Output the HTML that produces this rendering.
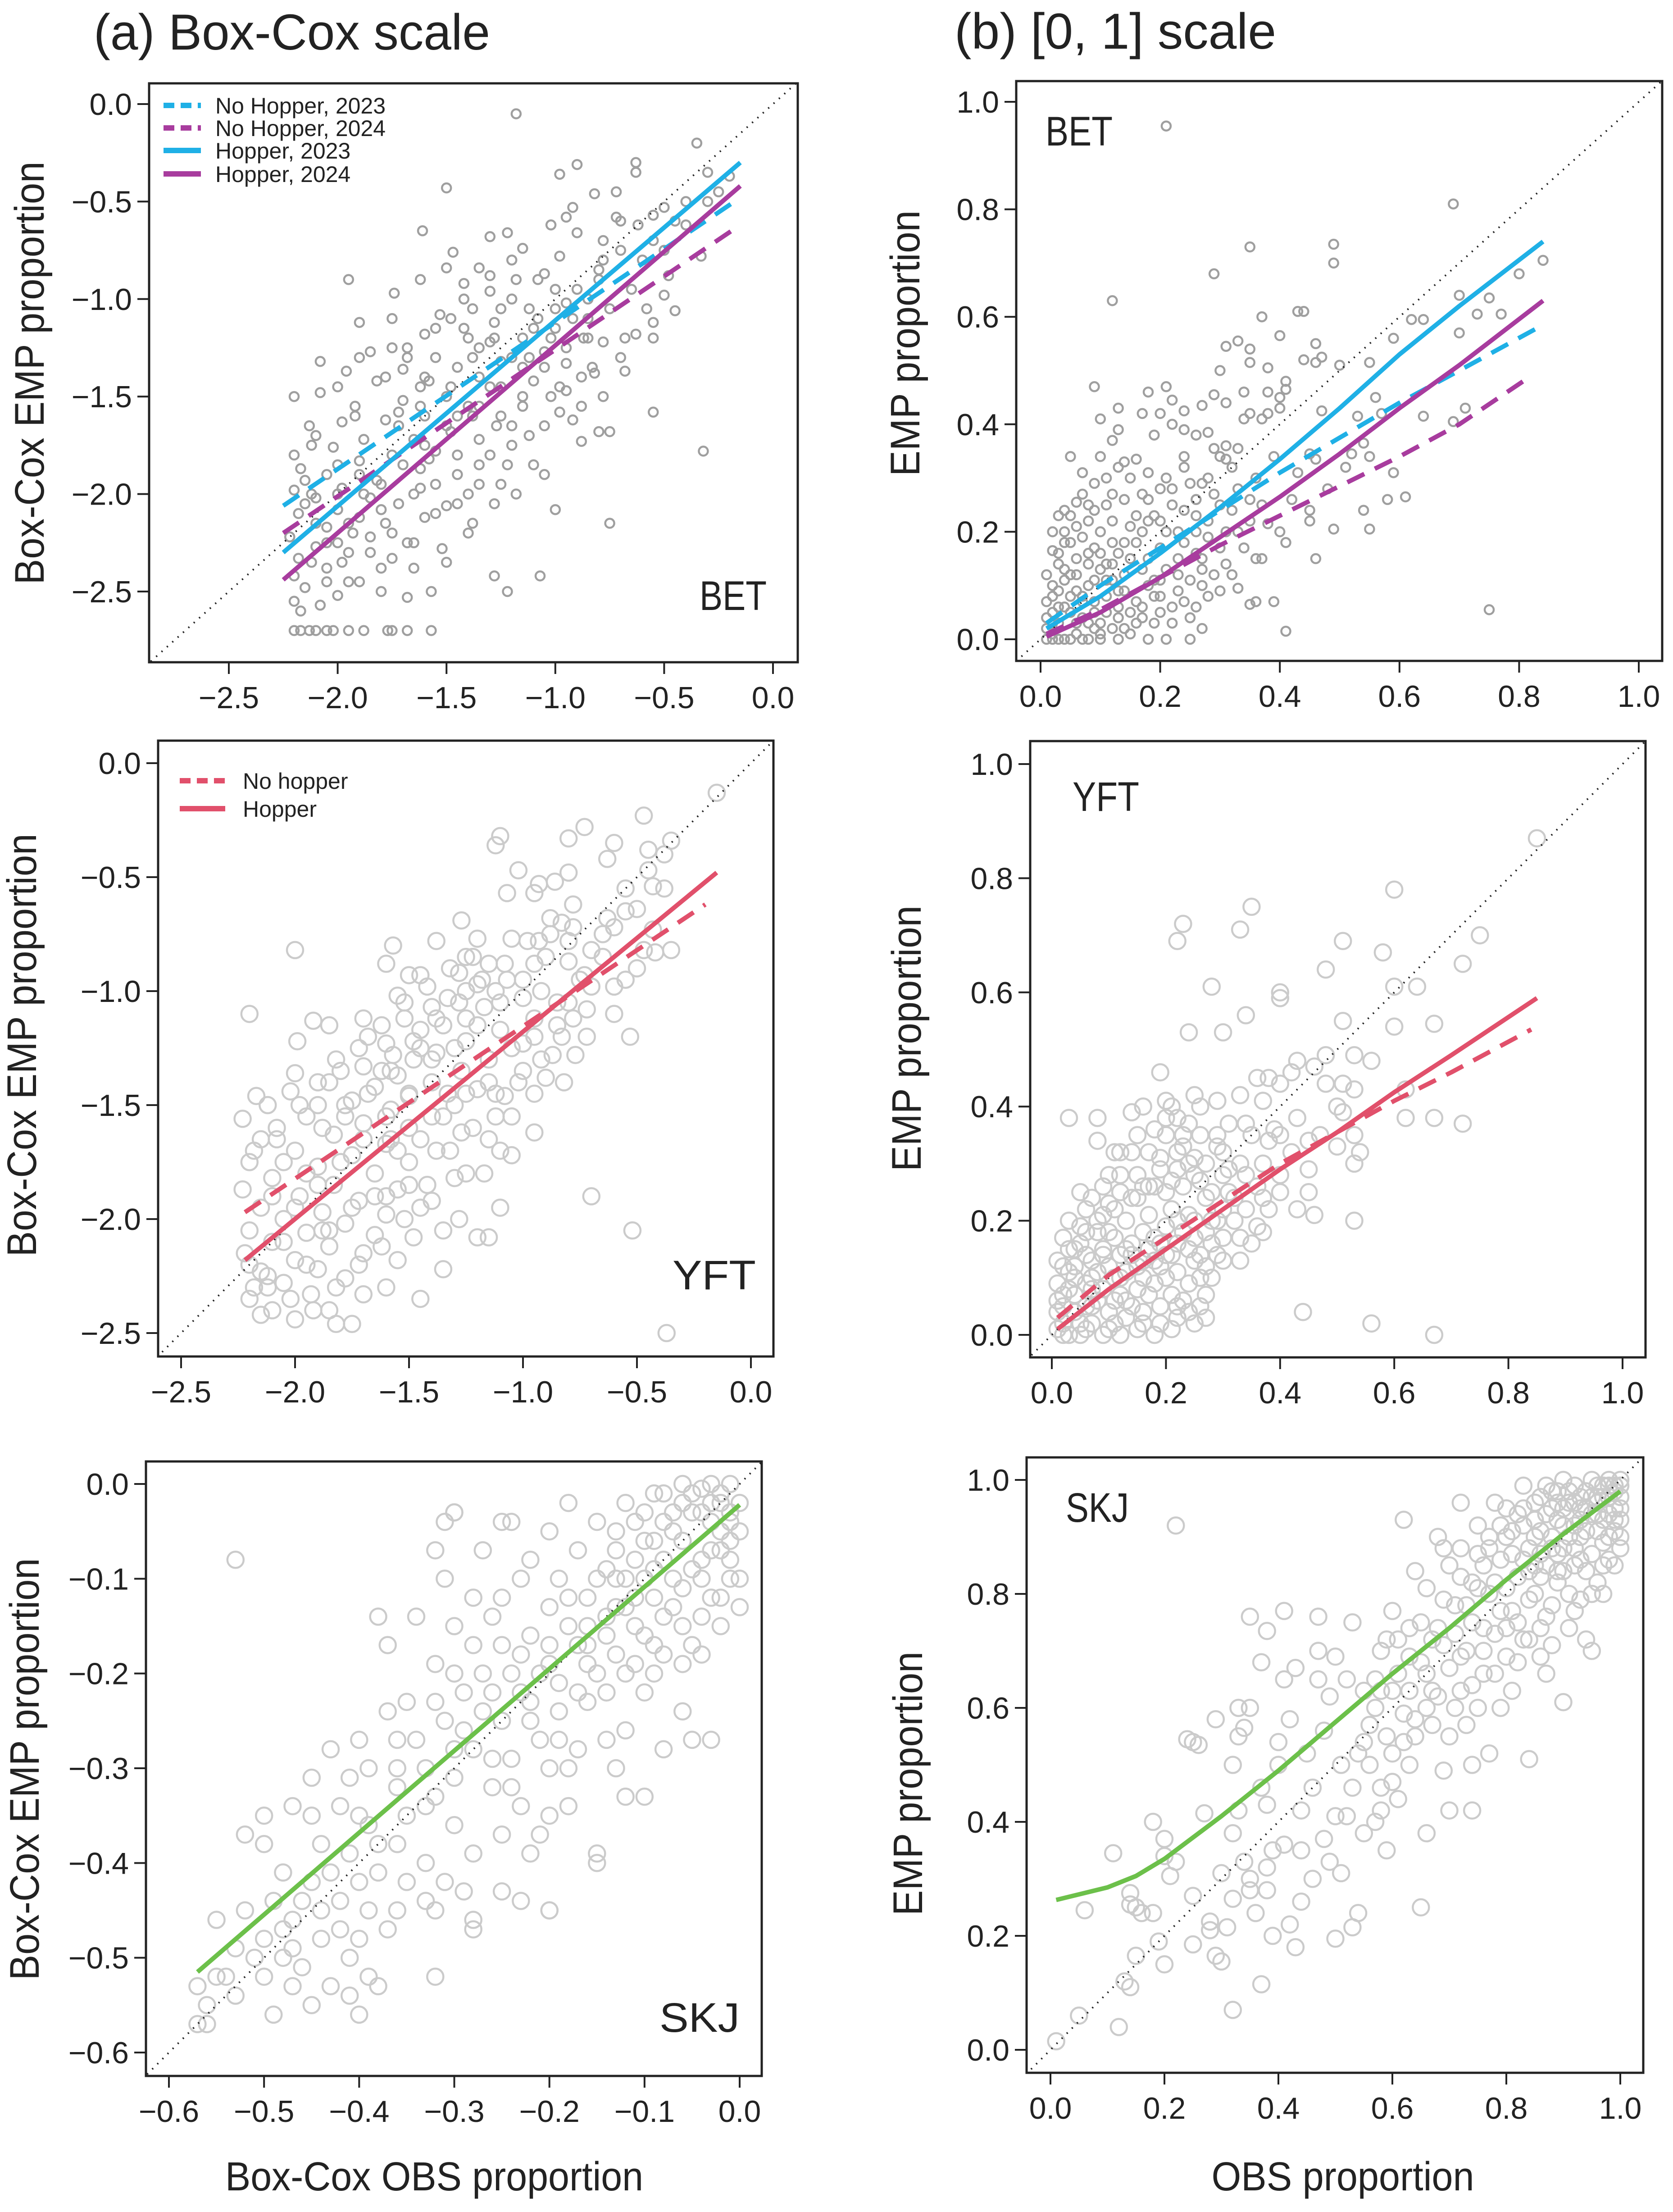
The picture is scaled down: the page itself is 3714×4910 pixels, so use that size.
<!DOCTYPE html>
<html><head><meta charset="utf-8"><style>
html,body{margin:0;padding:0;background:#fff;overflow:hidden;}
svg{display:block;font-family:"Liberation Sans",sans-serif;}
</style></head><body>
<svg id="fig" width="3714" height="4910" viewBox="0 0 3714 4910" xmlns="http://www.w3.org/2000/svg">
<rect width="3714" height="4910" fill="#fff"/>
<text x="208" y="110" font-size="112" fill="#222" textLength="880" lengthAdjust="spacingAndGlyphs">(a) Box-Cox scale</text>
<text x="2119" y="108" font-size="112" fill="#222" textLength="714" lengthAdjust="spacingAndGlyphs">(b) [0, 1] scale</text>
<g id="plots"></g>
</svg>
<script>
// ---------- data ----------
const betBcPoints = [[-2.2,-2.7],[-2.17,-2.7],[-2.13,-2.7],[-2.1,-2.7],[-2.05,-2.7],[-2.02,-2.7],[-1.95,-2.7],[-1.88,-2.7],[-1.77,-2.7],[-1.75,-2.7],[-1.68,-2.7],[-1.57,-2.7],
[-1.18,-0.05],[-0.35,-0.2],[-0.63,-0.3],[-0.9,-0.31],[-0.98,-0.36],[-0.63,-0.35],[-0.3,-0.35],[-1.5,-0.43],[-0.82,-0.46],[-0.72,-0.45],[-0.3,-0.5],[-0.5,-0.53],[-0.92,-0.53],[-0.95,-0.58],[-0.55,-0.57],[-0.7,-0.6],[-1.02,-0.62],[-0.62,-0.62],[-1.61,-0.65],[-1.22,-0.66],[-0.9,-0.66],[-1.3,-0.68],[-0.78,-0.7],[-1.15,-0.74],[-1.47,-0.76],[-0.98,-0.78],[-1.2,-0.8],[-0.78,-0.8],[-0.33,-0.78],[-1.35,-0.84],[-1.5,-0.84],[-0.48,-0.88],[-1.05,-0.87],[-0.8,-0.9],[-1.95,-0.9],[-1.62,-0.9],[-1.42,-0.92],[-1.0,-0.95],[-1.3,-0.96],[-1.74,-0.97],[-0.5,-0.98],[-1.2,-1.0],[-1.12,-1.05],[-1.38,-1.05],[-0.95,-1.02],[-0.85,-1.1],[-1.53,-1.08],[-1.75,-1.1],[-0.45,-1.06],[-1.9,-1.12],[-1.28,-1.12],[-1.0,-1.15],[-0.55,-1.12],[-1.42,-1.15],[-1.6,-1.18],[-1.15,-1.2],[-0.63,-1.18],[-0.87,-1.2],[-0.55,-1.2],[-0.78,-1.22],[-1.68,-1.25],[-1.35,-1.25],[-1.05,-1.27],[-1.85,-1.27],[-1.55,-1.3],[-2.08,-1.32],[-1.25,-1.32],[-0.95,-1.33],[-1.45,-1.35],[-1.7,-1.36],[-1.96,-1.37],[-0.82,-1.38],[-0.68,-1.37],[-1.35,-1.4],[-1.1,-1.42],[-1.58,-1.42],[-1.82,-1.42],[-2.0,-1.45],[-1.25,-1.45],[-0.95,-1.47],[-2.08,-1.48],[-1.5,-1.5],[-2.2,-1.5],[-1.7,-1.52],[-1.92,-1.55],[-1.15,-1.55],[-0.88,-1.55],[-0.98,-1.58],[-1.38,-1.6],[-1.6,-1.6],[-1.78,-1.62],[-1.98,-1.63],[-2.13,-1.65],[-1.27,-1.65],[-1.05,-1.65],[-1.48,-1.68],[-0.75,-1.68],[-2.1,-1.7],[-1.88,-1.72],[-1.65,-1.72],[-1.35,-1.72],[-1.2,-1.75],[-2.02,-1.76],[-1.55,-1.78],[-1.75,-1.8],[-1.3,-1.8],[-2.2,-1.8],[-1.9,-1.83],[-1.1,-1.85],[-2.17,-1.87],[-1.62,-1.87],[-1.45,-1.9],[-2.05,-1.9],[-1.82,-1.93],[-1.25,-1.95],[-1.98,-1.97],[-1.62,-1.97],[-2.2,-1.98],[-1.4,-2.0],[-1.85,-2.02],[-2.1,-2.02],[-1.72,-2.05],[-1.5,-2.06],[-2.0,-2.08],[-1.0,-2.08],[-2.18,-2.1],[-1.9,-2.12],[-1.6,-2.12],[-1.78,-2.15],[-2.05,-2.17],[-1.4,-2.2],[-2.22,-2.22],[-1.85,-2.22],[-1.68,-2.25],[-2.1,-2.27],[-1.52,-2.28],[-1.95,-2.3],[-2.18,-2.33],[-1.75,-2.33],[-2.05,-2.38],[-1.65,-2.38],[-2.2,-2.42],[-1.9,-2.45],[-1.28,-2.42],[-1.07,-2.42],[-2.15,-2.48],[-1.8,-2.5],[-1.57,-2.5],[-1.22,-2.5],[-2.0,-2.52],[-2.2,-2.55],[-1.68,-2.53],[-2.08,-2.57],[-2.17,-2.6],[-0.75,-2.15],[-0.32,-1.78],[-0.55,-1.58],[-0.8,-1.68],[-0.88,-1.73],[-0.7,-1.3],[-0.58,-1.05],[-0.2,-0.37],[-0.25,-0.45],[-0.4,-0.62],[-0.72,-0.58],[-0.85,-1.0],[-1.08,-0.9],[-1.02,-1.5],[-0.92,-1.62],[-1.2,-1.65],[-1.35,-1.55],[-0.83,-1.35],[-1.62,-1.45],[-1.72,-1.58],[-2.12,-2.0],[-2.15,-1.93],[-1.93,-2.2],[-2.0,-2.25],[-1.8,-2.08],[-1.58,-1.82],[-1.45,-1.6],[-1.15,-1.35],[-1.3,-1.22],
[-2.15,-2.05],[-2.1,-2.15],[-2.05,-2.25],[-2.0,-2.0],[-1.95,-2.15],[-1.9,-1.9],[-1.85,-2.3],[-1.8,-1.95],[-1.75,-2.2],[-1.7,-1.85],[-1.65,-2.0],[-1.6,-1.75],[-1.55,-1.95],[-1.5,-1.65],[-1.45,-1.8],[-1.4,-1.55],[-1.35,-1.85],[-1.3,-1.45],[-1.25,-1.6],[-1.2,-1.3],[-1.15,-1.5],[-1.1,-1.15],[-1.05,-1.35],[-1.0,-1.05],[-0.95,-1.25],[-0.9,-0.95],[-0.85,-1.2],[-0.8,-0.85],[-0.75,-1.05],[-0.7,-0.75],[-0.65,-0.95],[-0.6,-0.8],[-0.55,-0.7],[-0.5,-0.75],[-0.45,-0.6],[-0.4,-0.5],[-1.92,-1.6],[-1.78,-1.4],[-1.68,-1.3],[-1.55,-1.15],[-1.42,-1.0],[-1.3,-0.88],[-1.18,-0.9],[-1.25,-1.05],[-1.08,-1.1],[-2.12,-1.75],[-2.0,-1.85],[-1.88,-2.0],[-1.72,-1.65],[-1.62,-1.55],[-1.48,-1.45],[-1.38,-1.3],[-1.28,-1.2],[-1.12,-1.3],[-1.02,-1.2],[-0.92,-1.1],[-1.55,-2.1],[-1.45,-2.05],[-1.35,-1.95],[-1.22,-1.85],[-1.12,-1.7],[-0.98,-1.45],[-0.88,-1.4],[-0.78,-1.5],[-0.68,-1.2],[-1.65,-2.25],[-1.8,-2.38],[-1.95,-2.45],[-2.12,-2.35],[-1.5,-2.35],[-1.38,-2.15],[-1.28,-2.05],[-1.18,-2.0],[-1.05,-1.9],[-2.05,-2.45],[-1.98,-2.35],[-1.6,-1.4],[-1.75,-1.25],[-1.9,-1.3],[-1.4,-1.2],[-1.48,-1.1]];

const yftBcPoints = [[-0.15,-0.13],[-0.47,-0.23],[-0.73,-0.28],[-0.8,-0.33],[-1.1,-0.32],[-1.12,-0.36],[-0.35,-0.34],[-0.6,-0.35],[-0.45,-0.38],[-0.63,-0.42],[-0.38,-0.4],[-1.02,-0.47],[-0.8,-0.48],[-0.45,-0.47],[-0.43,-0.54],[-0.55,-0.55],[-0.93,-0.53],[-0.86,-0.52],[-0.38,-0.55],[-1.07,-0.57],[-0.95,-0.57],[-0.55,-0.65],[-0.5,-0.64],[-1.27,-0.69],[-0.63,-0.68],[-0.83,-0.7],[-0.78,-0.72],[-0.88,-0.75],[-1.2,-0.77],[-1.05,-0.77],[-0.43,-0.73],[-0.6,-0.72],[-0.93,-0.78],[-1.38,-0.78],[-1.57,-0.8],[-2.0,-0.82],[-0.47,-0.82],[-0.35,-0.82],[-0.42,-0.83],[-1.25,-0.85],[-1.15,-0.88],[-0.8,-0.87],[-0.95,-0.88],[-1.6,-0.88],[-1.5,-0.93],[-1.28,-0.92],[-1.07,-0.95],[-0.73,-0.93],[-1.45,-0.93],[-0.55,-0.95],[-1.55,-1.02],[-1.25,-1.0],[-1.12,-1.0],[-0.92,-1.0],[-0.6,-0.98],[-1.33,-1.03],[-1.0,-1.03],[-0.8,-1.05],[-1.17,-1.07],[-1.4,-1.07],[-0.72,-1.08],[-2.2,-1.1],[-1.92,-1.13],[-1.7,-1.12],[-1.52,-1.12],[-1.25,-1.12],[-0.95,-1.12],[-0.78,-1.12],[-1.85,-1.15],[-1.45,-1.17],[-1.35,-1.15],[-1.1,-1.17],[-0.83,-1.2],[-0.53,-1.2],[-1.68,-1.2],[-1.99,-1.22],[-1.6,-1.23],[-1.25,-1.22],[-1.0,-1.23],[-1.38,-1.27],[-1.57,-1.28],[-0.87,-1.28],[-1.15,-1.3],[-1.48,-1.3],[-1.82,-1.3],[-1.7,-1.33],[-1.27,-1.35],[-1.0,-1.35],[-2.0,-1.36],[-1.55,-1.37],[-1.4,-1.4],[-1.85,-1.4],[-0.9,-1.38],[-1.65,-1.42],[-1.2,-1.43],[-2.02,-1.44],[-1.08,-1.46],[-1.5,-1.46],[-2.17,-1.46],[-1.75,-1.48],[-1.3,-1.5],[-1.9,-1.5],[-1.58,-1.52],[-1.4,-1.55],[-2.23,-1.56],[-1.95,-1.55],[-1.7,-1.58],[-1.12,-1.55],[-1.5,-1.6],[-2.08,-1.6],[-1.27,-1.62],[-1.83,-1.63],[-2.15,-1.65],[-1.6,-1.67],[-1.38,-1.7],[-2.0,-1.7],[-1.75,-1.72],[-1.1,-1.7],[-2.2,-1.75],[-1.5,-1.75],[-1.9,-1.77],[-1.65,-1.8],[-1.3,-1.82],[-2.1,-1.82],[-1.83,-1.85],[-2.23,-1.87],[-1.55,-1.87],[-1.98,-1.9],[-1.72,-1.92],[-1.4,-1.92],[-2.15,-1.95],[-1.88,-1.97],[-1.6,-1.98],[-2.05,-2.0],[-1.28,-2.0],[-1.78,-2.02],[-2.2,-2.05],[-1.95,-2.06],[-1.65,-2.07],[-1.48,-2.08],[-2.1,-2.1],[-1.85,-2.12],[-1.2,-2.08],[-2.22,-2.15],[-1.7,-2.15],[-2.0,-2.18],[-1.55,-2.18],[-1.9,-2.22],[-2.15,-2.23],[-1.35,-2.22],[-1.78,-2.26],[-2.05,-2.28],[-1.6,-2.3],[-1.93,-2.33],[-2.2,-2.35],[-1.7,-2.33],[-1.45,-2.35],[-2.1,-2.4],[-1.85,-2.4],[-2.0,-2.44],[-2.15,-2.42],[-1.82,-2.46],[-1.75,-2.46],[-2.18,-2.3],[-0.7,-1.9],[-0.52,-2.05],[-0.37,-2.5],[-1.17,-1.8],[-1.1,-1.95],[-1.15,-2.08],[-1.05,-1.72],[-0.95,-1.45],[-0.77,-1.28],[-0.6,-1.1],[-0.5,-0.9],[-0.65,-0.85],[-1.2,-0.97],[-0.85,-1.15],[-0.7,-0.98],[-1.62,-1.35],[-1.78,-1.55],[-1.95,-1.8],[-2.05,-1.75],[-1.45,-1.25],[-1.33,-1.45],[-1.58,-1.65],[-1.88,-2.05],[-2.12,-2.25],
[-2.1,-1.9],[-2.05,-2.1],[-2.0,-1.95],[-1.95,-2.2],[-1.9,-1.85],[-1.85,-2.05],[-1.8,-1.75],[-1.75,-1.95],[-1.7,-1.65],[-1.65,-1.9],[-1.6,-1.55],[-1.55,-1.7],[-1.5,-1.45],[-1.45,-1.65],[-1.4,-1.3],[-1.35,-1.55],[-1.3,-1.25],[-1.25,-1.45],[-1.2,-1.15],[-1.15,-1.4],[-1.1,-1.05],[-1.05,-1.25],[-1.0,-0.95],[-0.95,-1.2],[-0.9,-0.85],[-0.85,-1.05],[-0.8,-0.78],[-0.75,-0.95],[-0.7,-0.82],[-0.65,-0.75],[-2.18,-1.7],[-2.12,-1.5],[-2.08,-1.65],[-1.98,-1.5],[-1.9,-1.4],[-1.8,-1.35],[-1.72,-1.25],[-1.62,-1.15],[-1.52,-1.05],[-1.42,-0.98],[-1.32,-0.9],[-1.22,-0.85],[-2.2,-2.2],[-2.12,-2.3],[-2.02,-2.35],[-1.92,-2.4],[-1.82,-2.3],[-1.72,-2.2],[-1.62,-2.12],[-1.52,-2.0],[-1.42,-1.85],[-1.32,-1.7],[-1.22,-1.6],[-1.12,-1.45],[-1.02,-1.4],[-0.92,-1.3],[-0.82,-1.4],[-0.72,-1.2],[-1.88,-1.6],[-1.78,-1.5],[-1.68,-1.45],[-1.58,-1.35],[-1.48,-1.22],[-1.38,-1.12],[-1.28,-1.05],[-1.18,-0.95],[-1.08,-0.88],[-0.98,-0.78],[-0.88,-0.68],[-0.78,-0.62],[-1.6,-1.9],[-1.5,-1.85],[-1.45,-1.95],[-1.35,-2.05],[-1.25,-1.8],[-1.15,-1.65],[-1.05,-1.55],[-0.95,-1.62]];

const skjBcPoints = [[-0.01,0],[-0.02,-0.01],[-0.03,-0.02],[-0.01,-0.03],[-0.04,-0.005],[-0.05,-0.03],[-0.02,-0.05],[-0.06,-0.02],[-0.08,-0.01],[-0.07,-0.05],[-0.1,-0.03],[-0.03,-0.07],[-0.09,-0.06],[-0.12,-0.02],[-0.05,-0.09],[-0.01,-0.1],[-0.11,-0.08],[-0.13,-0.05],[-0.07,-0.1],[-0.15,-0.04],[-0.02,-0.12],[-0.04,-0.14],[-0.09,-0.12],[-0.14,-0.09],[-0.17,-0.07],[-0.12,-0.13],[-0.06,-0.15],[-0.19,-0.1],[-0.16,-0.12],[-0.1,-0.16],[-0.2,-0.05],[-0.22,-0.08],[-0.24,-0.04],[-0.23,-0.1],[-0.18,-0.15],[-0.13,-0.18],[-0.08,-0.18],[-0.2,-0.13],[-0.25,-0.12],[-0.22,-0.16],[-0.16,-0.19],[-0.11,-0.19],[-0.27,-0.07],[-0.3,-0.03],[-0.28,-0.12],[-0.25,-0.17],[-0.2,-0.19],[-0.14,-0.22],[-0.09,-0.2],[-0.06,-0.24],[-0.03,-0.27],[-0.3,-0.15],[-0.27,-0.2],[-0.23,-0.22],[-0.19,-0.24],[-0.16,-0.23],[-0.12,-0.26],[-0.32,-0.19],[-0.29,-0.22],[-0.25,-0.25],[-0.21,-0.27],[-0.17,-0.28],[-0.34,-0.14],[-0.31,-0.1],[-0.35,-0.23],[-0.31,-0.25],[-0.28,-0.28],[-0.24,-0.29],[-0.2,-0.3],[-0.18,-0.34],[-0.13,-0.3],[-0.12,-0.33],[-0.15,-0.39],[-0.37,-0.17],[-0.38,-0.14],[-0.37,-0.24],[-0.36,-0.27],[-0.33,-0.3],[-0.3,-0.31],[-0.26,-0.32],[-0.23,-0.34],[-0.21,-0.37],[-0.22,-0.39],[-0.4,-0.27],[-0.41,-0.31],[-0.39,-0.3],[-0.36,-0.32],[-0.33,-0.34],[-0.3,-0.36],[-0.28,-0.39],[-0.25,-0.37],[-0.25,-0.43],[-0.23,-0.44],[-0.2,-0.45],[-0.43,-0.28],[-0.42,-0.34],[-0.39,-0.36],[-0.36,-0.38],[-0.33,-0.4],[-0.31,-0.42],[-0.29,-0.43],[-0.28,-0.46],[-0.45,-0.31],[-0.45,-0.35],[-0.44,-0.38],[-0.41,-0.39],[-0.38,-0.41],[-0.35,-0.42],[-0.33,-0.44],[-0.36,-0.45],[-0.32,-0.45],[-0.47,-0.34],[-0.48,-0.41],[-0.45,-0.42],[-0.42,-0.44],[-0.39,-0.45],[-0.37,-0.47],[-0.42,-0.47],[-0.4,-0.48],[-0.5,-0.35],[-0.5,-0.38],[-0.52,-0.37],[-0.49,-0.44],[-0.47,-0.46],[-0.44,-0.48],[-0.41,-0.5],[-0.39,-0.52],[-0.32,-0.52],[-0.55,-0.46],[-0.52,-0.45],[-0.5,-0.48],[-0.48,-0.5],[-0.46,-0.51],[-0.43,-0.53],[-0.41,-0.54],[-0.38,-0.53],[-0.4,-0.56],[-0.53,-0.49],[-0.5,-0.52],[-0.47,-0.53],[-0.45,-0.55],[-0.49,-0.56],[-0.54,-0.52],[-0.55,-0.52],[-0.56,-0.55],[-0.57,-0.57],[-0.56,-0.57],[-0.53,-0.54],[-0.57,-0.53],[-0.53,-0.08],[-0.3,-0.03],[-0.31,-0.04],[-0.18,-0.02],[-0.25,-0.04],[-0.32,-0.07],[-0.15,-0.4],[-0.2,-0.45],[-0.28,-0.47],[-0.2,-0.35],[-0.1,-0.33],[-0.05,-0.27],[-0.08,-0.28],[-0.04,-0.18],[0,-0.05],[0,-0.1],[0,-0.13],[-0.02,-0.15],[-0.02,-0.07],[0,-0.02],[-0.01,-0.04],[-0.03,0],[-0.06,0],[-0.09,-0.01],[-0.04,-0.1],[-0.06,-0.06],[-0.11,-0.12],[-0.14,-0.14],[-0.17,-0.17],[-0.08,-0.08],[-0.1,-0.22],[-0.13,-0.1],[-0.15,-0.2],[-0.19,-0.21],[-0.26,-0.22],[-0.22,-0.25],
[-0.01,-0.06],[-0.03,-0.04],[-0.05,-0.01],[-0.07,-0.03],[-0.08,-0.04],[-0.1,-0.06],[-0.04,-0.08],[-0.06,-0.11],[-0.08,-0.14],[-0.12,-0.1],[-0.11,-0.04],[-0.13,-0.07],[-0.15,-0.1],[-0.16,-0.15],[-0.18,-0.12],[-0.2,-0.17],[-0.21,-0.2],[-0.23,-0.18],[-0.19,-0.27],[-0.17,-0.22],[-0.14,-0.16],[-0.12,-0.2],[-0.1,-0.1],[-0.07,-0.13],[-0.05,-0.17],[-0.03,-0.12],[-0.01,-0.08],[-0.02,-0.02],[-0.04,-0.03],[-0.09,-0.09],[-0.26,-0.14],[-0.28,-0.17],[-0.3,-0.2],[-0.32,-0.23],[-0.34,-0.27],[-0.29,-0.26],[-0.27,-0.24],[-0.24,-0.2],[-0.22,-0.23],[-0.26,-0.29],[-0.24,-0.32],[-0.3,-0.28],[-0.32,-0.33],[-0.35,-0.35],[-0.38,-0.38],[-0.4,-0.42],[-0.43,-0.41],[-0.46,-0.44],[-0.48,-0.47],[-0.51,-0.5],[-0.36,-0.3],[-0.4,-0.35],[-0.44,-0.45],[-0.47,-0.49],[-0.13,-0.13],[-0.16,-0.17],[-0.11,-0.15],[-0.09,-0.17],[-0.06,-0.19],[-0.14,-0.27],[-0.18,-0.3]];

const betPropPoints = [[0.21,0.955],[0.69,0.81],[0.35,0.73],[0.49,0.735],[0.49,0.7],[0.29,0.68],[0.12,0.63],[0.84,0.705],[0.8,0.68],[0.7,0.64],[0.75,0.635],[0.73,0.605],[0.77,0.605],[0.64,0.595],[0.62,0.595],[0.7,0.57],[0.37,0.6],[0.44,0.61],[0.43,0.61],[0.4,0.565],[0.46,0.55],[0.31,0.545],[0.33,0.555],[0.35,0.54],[0.59,0.56],[0.47,0.525],[0.44,0.52],[0.46,0.515],[0.55,0.515],[0.5,0.51],[0.3,0.5],[0.35,0.515],[0.38,0.505],[0.41,0.48],[0.41,0.465],[0.38,0.46],[0.34,0.46],[0.21,0.47],[0.29,0.455],[0.4,0.45],[0.22,0.445],[0.18,0.46],[0.09,0.47],[0.56,0.45],[0.31,0.44],[0.47,0.425],[0.24,0.425],[0.27,0.435],[0.13,0.43],[0.17,0.42],[0.2,0.42],[0.35,0.42],[0.38,0.42],[0.4,0.43],[0.53,0.415],[0.57,0.42],[0.64,0.415],[0.71,0.43],[0.69,0.405],[0.1,0.41],[0.22,0.4],[0.34,0.41],[0.37,0.41],[0.24,0.39],[0.13,0.39],[0.12,0.37],[0.26,0.38],[0.28,0.385],[0.31,0.36],[0.33,0.355],[0.29,0.355],[0.19,0.38],[0.05,0.34],[0.1,0.34],[0.14,0.33],[0.16,0.335],[0.24,0.34],[0.3,0.34],[0.31,0.335],[0.45,0.345],[0.46,0.335],[0.39,0.34],[0.54,0.365],[0.52,0.345],[0.55,0.34],[0.59,0.31],[0.51,0.32],[0.43,0.31],[0.32,0.32],[0.07,0.31],[0.09,0.29],[0.11,0.3],[0.13,0.32],[0.15,0.3],[0.18,0.31],[0.21,0.3],[0.24,0.32],[0.27,0.29],[0.2,0.28],[0.17,0.27],[0.14,0.26],[0.11,0.25],[0.08,0.25],[0.06,0.255],[0.04,0.24],[0.05,0.23],[0.22,0.25],[0.26,0.26],[0.29,0.27],[0.24,0.24],[0.08,0.22],[0.12,0.22],[0.15,0.21],[0.18,0.22],[0.21,0.2],[0.19,0.23],[0.26,0.2],[0.28,0.22],[0.35,0.22],[0.38,0.215],[0.4,0.2],[0.45,0.24],[0.45,0.22],[0.49,0.205],[0.54,0.24],[0.55,0.205],[0.58,0.26],[0.61,0.265],[0.04,0.18],[0.07,0.19],[0.09,0.17],[0.13,0.16],[0.16,0.18],[0.2,0.17],[0.23,0.15],[0.26,0.16],[0.3,0.17],[0.33,0.2],[0.36,0.15],[0.37,0.15],[0.41,0.18],[0.46,0.15],[0.02,0.165],[0.03,0.14],[0.06,0.15],[0.1,0.13],[0.14,0.12],[0.17,0.13],[0.19,0.11],[0.23,0.12],[0.27,0.1],[0.3,0.09],[0.33,0.095],[0.35,0.065],[0.36,0.07],[0.39,0.07],[0.02,0.1],[0.04,0.11],[0.06,0.09],[0.08,0.1],[0.11,0.08],[0.13,0.06],[0.16,0.07],[0.2,0.05],[0.22,0.03],[0.25,0.04],[0.27,0.02],[0.01,0.07],[0.03,0.06],[0.05,0.05],[0.07,0.04],[0.1,0.03],[0.12,0.02],[0.15,0.01],[0.18,0.0],[0.21,0.0],[0.25,0.0],[0.41,0.015],[0.75,0.055],[0.01,0.02],[0.02,0.01],[0.03,0.03],[0.04,0.0],[0.06,0.01],[0.08,0.0],[0.09,0.02],[0.01,0.04],[0.02,0.05],[0.05,0.08],[0.03,0.09],[0.01,0.12],[0.04,0.2],[0.06,0.21],[0.1,0.2],[0.12,0.18],[0.02,0.03],[0.05,0.12],[0.07,0.07],[0.09,0.05],[0.11,0.14],[0.14,0.09],[0.17,0.04],[0.19,0.08],[0.03,0.0],[0.07,0.0],[0.1,0.0],[0.13,0.0],
[0.01,0.0],[0.02,0.0],[0.05,0.0],[0.06,0.03],[0.08,0.03],[0.1,0.01],[0.11,0.05],[0.13,0.04],[0.14,0.02],[0.16,0.03],[0.17,0.06],[0.19,0.03],[0.2,0.08],[0.22,0.06],[0.24,0.07],[0.26,0.06],[0.28,0.08],[0.29,0.12],[0.31,0.14],[0.32,0.12],[0.34,0.17],[0.04,0.13],[0.06,0.12],[0.08,0.14],[0.09,0.11],[0.12,0.11],[0.15,0.15],[0.18,0.15],[0.21,0.13],[0.24,0.18],[0.27,0.15],[0.28,0.19],[0.31,0.2],[0.32,0.24],[0.35,0.26],[0.37,0.25],[0.02,0.2],[0.03,0.23],[0.07,0.27],[0.09,0.24],[0.12,0.27],[0.16,0.23],[0.18,0.26],[0.22,0.28],[0.25,0.29],[0.28,0.3],[0.33,0.28],[0.36,0.3],[0.02,0.08],[0.04,0.06],[0.07,0.08],[0.09,0.07],[0.11,0.11],[0.13,0.09],[0.15,0.05],[0.18,0.1],[0.2,0.11],[0.23,0.09],[0.25,0.11],[0.27,0.13],[0.03,0.16],[0.05,0.18],[0.08,0.16],[0.1,0.16],[0.12,0.14],[0.14,0.18],[0.17,0.2],[0.2,0.22],[0.23,0.2],[0.26,0.23],[0.3,0.25],[0.42,0.26],[0.48,0.28]];

const yftPropPoints = [[0.85,0.87],[0.6,0.78],[0.35,0.75],[0.23,0.72],[0.33,0.71],[0.22,0.69],[0.51,0.69],[0.75,0.7],[0.58,0.67],[0.48,0.64],[0.72,0.65],[0.6,0.61],[0.64,0.61],[0.28,0.61],[0.4,0.6],[0.4,0.59],[0.34,0.56],[0.51,0.55],[0.6,0.54],[0.67,0.545],[0.24,0.53],[0.3,0.53],[0.48,0.49],[0.53,0.49],[0.56,0.48],[0.43,0.48],[0.46,0.47],[0.19,0.46],[0.42,0.46],[0.36,0.45],[0.38,0.45],[0.4,0.44],[0.48,0.44],[0.51,0.44],[0.53,0.43],[0.62,0.43],[0.33,0.42],[0.25,0.42],[0.29,0.41],[0.2,0.41],[0.21,0.4],[0.37,0.41],[0.26,0.4],[0.16,0.4],[0.14,0.39],[0.5,0.4],[0.51,0.39],[0.03,0.38],[0.08,0.38],[0.22,0.38],[0.24,0.37],[0.31,0.37],[0.34,0.37],[0.39,0.36],[0.43,0.38],[0.62,0.38],[0.67,0.38],[0.72,0.37],[0.18,0.36],[0.2,0.35],[0.23,0.35],[0.29,0.35],[0.35,0.35],[0.38,0.34],[0.4,0.35],[0.45,0.34],[0.53,0.35],[0.54,0.32],[0.08,0.34],[0.11,0.32],[0.12,0.32],[0.14,0.32],[0.17,0.32],[0.22,0.32],[0.25,0.31],[0.27,0.3],[0.3,0.32],[0.33,0.3],[0.5,0.33],[0.53,0.3],[0.1,0.28],[0.15,0.28],[0.19,0.29],[0.22,0.29],[0.24,0.3],[0.3,0.28],[0.34,0.28],[0.4,0.28],[0.45,0.29],[0.05,0.25],[0.07,0.24],[0.12,0.25],[0.16,0.26],[0.2,0.25],[0.23,0.26],[0.27,0.24],[0.32,0.24],[0.37,0.24],[0.4,0.25],[0.45,0.25],[0.03,0.2],[0.06,0.22],[0.09,0.21],[0.13,0.2],[0.17,0.21],[0.21,0.22],[0.24,0.21],[0.28,0.2],[0.3,0.22],[0.36,0.19],[0.43,0.22],[0.46,0.21],[0.53,0.2],[0.02,0.17],[0.05,0.16],[0.08,0.18],[0.11,0.17],[0.14,0.16],[0.18,0.17],[0.22,0.16],[0.25,0.17],[0.28,0.16],[0.3,0.13],[0.33,0.17],[0.35,0.16],[0.37,0.18],[0.01,0.13],[0.04,0.12],[0.07,0.13],[0.1,0.12],[0.13,0.11],[0.16,0.13],[0.19,0.12],[0.22,0.11],[0.25,0.13],[0.27,0.12],[0.29,0.14],[0.01,0.09],[0.03,0.08],[0.06,0.09],[0.09,0.08],[0.12,0.07],[0.15,0.08],[0.18,0.09],[0.21,0.07],[0.24,0.09],[0.27,0.07],[0.02,0.05],[0.04,0.04],[0.07,0.05],[0.1,0.04],[0.13,0.03],[0.16,0.04],[0.19,0.05],[0.22,0.03],[0.25,0.02],[0.01,0.01],[0.03,0.0],[0.06,0.01],[0.09,0.0],[0.12,0.0],[0.15,0.01],[0.18,0.0],[0.21,0.01],[0.44,0.04],[0.56,0.02],[0.67,0.0],[0.26,0.05],[0.02,0.02],[0.05,0.02],[0.08,0.06],[0.11,0.1],[0.14,0.14],[0.17,0.15],[0.2,0.19],[0.26,0.27],[0.07,0.1],[0.04,0.07],[0.11,0.22],[0.15,0.24],[0.18,0.26],[0.06,0.14],[0.09,0.15],[0.12,0.14],[0.16,0.1],[0.2,0.14],[0.23,0.18],[0.26,0.1],
[0.01,0.04],[0.02,0.07],[0.03,0.11],[0.04,0.15],[0.05,0.19],[0.06,0.05],[0.07,0.08],[0.08,0.11],[0.09,0.14],[0.1,0.18],[0.11,0.06],[0.12,0.1],[0.13,0.15],[0.14,0.05],[0.15,0.12],[0.16,0.18],[0.17,0.07],[0.18,0.13],[0.19,0.16],[0.2,0.1],[0.21,0.14],[0.22,0.2],[0.23,0.06],[0.24,0.15],[0.25,0.2],[0.26,0.14],[0.27,0.18],[0.28,0.1],[0.29,0.2],[0.3,0.17],[0.31,0.25],[0.32,0.2],[0.33,0.13],[0.34,0.22],[0.36,0.26],[0.38,0.22],[0.02,0.0],[0.05,0.0],[0.07,0.02],[0.1,0.01],[0.11,0.02],[0.13,0.06],[0.16,0.02],[0.19,0.02],[0.22,0.05],[0.24,0.04],[0.27,0.03],[0.04,0.1],[0.06,0.14],[0.08,0.2],[0.1,0.23],[0.12,0.28],[0.14,0.24],[0.17,0.26],[0.19,0.31],[0.21,0.27],[0.23,0.33],[0.25,0.28],[0.28,0.25],[0.29,0.33],[0.31,0.29],[0.02,0.12],[0.03,0.15],[0.01,0.06],[0.06,0.18],[0.09,0.26],[0.15,0.35],[0.2,0.38],[0.26,0.35],[0.37,0.3],[0.42,0.32],[0.47,0.35]];

const skjPropPoints = [[0.01,0.015],[0.05,0.06],[0.12,0.04],[0.06,0.245],[0.11,0.345],[0.14,0.275],[0.14,0.255],[0.15,0.25],[0.16,0.24],[0.18,0.24],[0.15,0.165],[0.13,0.12],[0.14,0.11],[0.19,0.19],[0.2,0.15],[0.18,0.4],[0.2,0.37],[0.2,0.34],[0.22,0.33],[0.21,0.305],[0.22,0.92],[0.24,0.545],[0.25,0.54],[0.26,0.535],[0.25,0.27],[0.25,0.185],[0.27,0.415],[0.28,0.225],[0.28,0.21],[0.29,0.165],[0.3,0.155],[0.29,0.58],[0.3,0.31],[0.31,0.215],[0.32,0.5],[0.32,0.38],[0.32,0.265],[0.32,0.07],[0.33,0.6],[0.33,0.55],[0.34,0.565],[0.35,0.6],[0.33,0.42],[0.34,0.33],[0.35,0.3],[0.35,0.28],[0.36,0.24],[0.35,0.76],[0.38,0.735],[0.37,0.68],[0.37,0.46],[0.38,0.43],[0.38,0.32],[0.38,0.28],[0.39,0.35],[0.39,0.2],[0.37,0.115],[0.4,0.5],[0.4,0.54],[0.41,0.77],[0.41,0.65],[0.41,0.36],[0.42,0.22],[0.42,0.58],[0.43,0.67],[0.44,0.42],[0.44,0.35],[0.43,0.18],[0.44,0.26],[0.45,0.52],[0.46,0.46],[0.46,0.3],[0.47,0.76],[0.47,0.65],[0.47,0.7],[0.48,0.56],[0.48,0.37],[0.49,0.33],[0.49,0.62],[0.5,0.69],[0.5,0.41],[0.5,0.195],[0.51,0.5],[0.51,0.31],[0.52,0.65],[0.53,0.75],[0.53,0.46],[0.53,0.215],[0.54,0.24],[0.55,0.54],[0.55,0.38],[0.56,0.5],[0.57,0.6],[0.57,0.4],[0.58,0.46],[0.58,0.63],[0.59,0.35],[0.59,0.72],[0.6,0.77],[0.6,0.52],[0.61,0.66],[0.61,0.44],[0.62,0.59],[0.62,0.93],[0.63,0.74],[0.63,0.5],[0.64,0.84],[0.64,0.55],[0.65,0.25],[0.65,0.68],[0.66,0.81],[0.66,0.38],[0.67,0.57],[0.67,0.63],[0.68,0.74],[0.68,0.9],[0.69,0.88],[0.69,0.49],[0.7,0.67],[0.7,0.42],[0.71,0.6],[0.71,0.78],[0.72,0.83],[0.72,0.96],[0.73,0.7],[0.73,0.57],[0.74,0.64],[0.74,0.75],[0.74,0.42],[0.75,0.87],[0.75,0.92],[0.76,0.66],[0.77,0.8],[0.77,0.52],[0.78,0.73],[0.78,0.96],[0.79,0.86],[0.79,0.6],[0.8,0.69],[0.8,0.9],[0.81,0.77],[0.81,0.63],[0.82,0.83],[0.82,0.94],[0.83,0.72],[0.83,0.99],[0.84,0.88],[0.84,0.51],[0.85,0.8],[0.85,0.96],[0.86,0.74],[0.86,0.91],[0.87,0.85],[0.87,0.66],[0.88,0.98],[0.88,0.78],[0.89,0.93],[0.89,0.82],[0.9,0.88],[0.9,0.61],[0.91,0.96],[0.91,0.74],[0.92,0.85],[0.92,0.99],[0.93,0.9],[0.93,0.79],[0.94,0.95],[0.94,0.72],[0.95,0.87],[0.95,0.7],[0.96,0.99],[0.96,0.82],[0.97,0.93],[0.97,0.89],[0.98,0.97],[0.98,0.86],[0.99,0.95],[0.99,0.91],[1.0,1.0],[1.0,0.97],[1.0,0.93],[1.0,0.88],[0.98,1.0],[0.95,1.0],[0.93,0.97],[0.9,1.0],[0.87,0.99],[0.85,0.9],[0.89,0.87],[0.92,0.92],[0.96,0.91],[0.99,0.98],[0.83,0.86],[0.88,0.95],[0.94,0.84],[0.97,0.85],[0.91,0.8],[0.86,0.83],[0.8,0.81],[0.76,0.74],[0.72,0.69],[0.69,0.71],[0.66,0.66],[0.63,0.63],[0.59,0.55],[0.56,0.57],[0.54,0.52],[0.52,0.41],[0.97,0.97],[0.95,0.94],[0.93,0.93],[0.9,0.92],[0.88,0.9],[0.86,0.87],[0.84,0.84],[0.99,0.99],[0.98,0.94],[0.96,0.96],[0.92,0.88],[0.89,0.84],
[0.76,0.85],[0.77,0.9],[0.78,0.82],[0.79,0.77],[0.8,0.95],[0.81,0.87],[0.82,0.75],[0.83,0.92],[0.84,0.79],[0.85,0.85],[0.86,0.97],[0.87,0.76],[0.88,0.88],[0.89,0.98],[0.9,0.84],[0.91,0.9],[0.92,0.77],[0.93,0.86],[0.94,0.91],[0.95,0.8],[0.96,0.94],[0.97,0.8],[0.98,0.9],[0.99,0.85],[1.0,0.9],[1.0,0.95],[1.0,0.99],[0.99,0.93],[0.97,0.99],[0.95,0.97],[0.93,0.95],[0.91,0.98],[0.89,0.96],[0.87,0.94],[0.85,0.93],[0.83,0.95],[0.81,0.91],[0.79,0.92],[0.77,0.88],[0.75,0.81],[0.73,0.78],[0.71,0.73],[0.69,0.79],[0.67,0.72],[0.65,0.75],[0.63,0.69],[0.61,0.72],[0.6,0.63],[0.58,0.7],[0.57,0.65],[0.55,0.63],[0.7,0.85],[0.72,0.88],[0.74,0.82],[0.76,0.7],[0.78,0.66],[0.8,0.74],[0.82,0.68],[0.84,0.72],[0.86,0.69],[0.88,0.71],[0.68,0.62],[0.66,0.6],[0.64,0.58],[0.62,0.54],[0.6,0.47],[0.58,0.42],[0.7,0.55],[0.74,0.5],[0.75,0.6],[0.72,0.63],[0.9,0.95],[0.92,0.96],[0.94,0.98],[0.96,0.97],[0.98,0.99]];

// fitted lines
const betBcX = [-2.25, -0.15];
const betBcHop23 = [-2.3, -0.3];
const betBcHop24 = [-2.44, -0.42];
const betBcNo23 = [-2.06, -0.48];
const betBcNo24 = [-2.2, -0.62];
const betPropX = [0.01, 0.1, 0.2, 0.3, 0.4, 0.5, 0.6, 0.7, 0.84];
const betPropHop23 = [0.02, 0.08, 0.16, 0.245, 0.335, 0.43, 0.53, 0.62, 0.74];
const betPropNo23 = [0.03, 0.10, 0.17, 0.24, 0.31, 0.375, 0.44, 0.5, 0.585];
const betPropHop24 = [0.005, 0.05, 0.115, 0.19, 0.265, 0.345, 0.43, 0.51, 0.63];
const betPropNo24 = [0.01, 0.055, 0.115, 0.175, 0.23, 0.285, 0.34, 0.4, 0.49];
const yftBcHopX = [-2.22, -0.15];
const yftBcHop = [-2.18, -0.48];
const yftBcNoX = [-2.22, -0.2];
const yftBcNo = [-1.97, -0.62];
const yftPropX = [0.01, 0.1, 0.2, 0.3, 0.4, 0.5, 0.6, 0.7, 0.85];
const yftPropHop = [0.01, 0.08, 0.15, 0.22, 0.29, 0.355, 0.425, 0.49, 0.59];
const yftPropNo = [0.03, 0.105, 0.17, 0.235, 0.3, 0.355, 0.41, 0.46, 0.535];
const skjBcX = [-0.57, 0.0];
const skjBcFit = [-0.515, -0.022];
const skjPropX = [0.01, 0.1, 0.15, 0.2, 0.3, 0.4, 0.5, 0.6, 0.7, 0.8, 0.9, 1.0];
const skjPropFit = [0.263, 0.285, 0.305, 0.335, 0.41, 0.49, 0.575, 0.66, 0.74, 0.825, 0.905, 0.98];

const bcTicks = [-2.5, -2.0, -1.5, -1.0, -0.5, 0.0];
const skjBcTicks = [-0.6, -0.5, -0.4, -0.3, -0.2, -0.1, 0.0];
const propTicks = [0.0, 0.2, 0.4, 0.6, 0.8, 1.0];

// ---------- drawing ----------
const NS = "http://www.w3.org/2000/svg";
const root = document.getElementById('plots');
const CYAN = "#1fb0e6", PURP = "#a83c9e", RED = "#e1506b", GREEN = "#6cc04a";
function mk(tag, attrs, parent) {
  const e = document.createElementNS(NS, tag);
  for (const k in attrs) e.setAttribute(k, attrs[k]);
  (parent || root).appendChild(e);
  return e;
}
function fmt(v) { return (v < 0 ? "\u2212" : "") + Math.abs(v).toFixed(1); }

const panels = [
 {id:"bet-boxcox", box:[331,185,1771,1470], xa:[-2.5,508,0,1716], ya:[0,231,-2.5,1313], ticks:bcTicks, pts:betBcPoints, r:10, pc:"#9f9f9f",
  ytitle:"Box-Cox EMP proportion", ytx:65, yty:828, ylen:939, label:"BET", lx:1553, ly:1354, lw:149},
 {id:"yft-boxcox", box:[351,1644,1717,3011], xa:[-2.5,402,0,1667], ya:[0,1694,-2.5,2959], ticks:bcTicks, pts:yftBcPoints, r:18, pc:"#cbcbcb",
  ytitle:"Box-Cox EMP proportion", ytx:48, yty:2320, ylen:939, label:"YFT", lx:1493, ly:2862, lw:185},
 {id:"skj-boxcox", box:[324,3244,1691,4608], xa:[-0.6,375,0,1642], ya:[0,3294,-0.6,4556], ticks:skjBcTicks, pts:skjBcPoints, r:18, pc:"#cbcbcb",
  ytitle:"Box-Cox EMP proportion", ytx:54, yty:3927, ylen:937, label:"SKJ", lx:1464, ly:4510, lw:178,
  xtitle:"Box-Cox OBS proportion", xtx:964, xlen:928},
 {id:"bet-prop", box:[2256,180,3690,1467], xa:[0,2310,1,3638], ya:[1,226,0,1419], ticks:propTicks, pts:betPropPoints, r:10, pc:"#9f9f9f",
  ytitle:"EMP proportion", ytx:2009, yty:762, ylen:590, label:"BET", lx:2321, ly:323, lw:149},
 {id:"yft-prop", box:[2287,1645,3653,3013], xa:[0,2335,1,3602], ya:[1,1696,0,2963], ticks:propTicks, pts:yftPropPoints, r:18, pc:"#cbcbcb",
  ytitle:"EMP proportion", ytx:2012, yty:2305, ylen:590, label:"YFT", lx:2381, ly:1800, lw:148},
 {id:"skj-prop", box:[2279,3235,3648,4601], xa:[0,2332,1,3597], ya:[1,3285,0,4550], ticks:propTicks, pts:skjPropPoints, r:18, pc:"#cbcbcb",
  ytitle:"EMP proportion", ytx:2015, yty:3959, ylen:586, label:"SKJ", lx:2366, ly:3378, lw:140,
  xtitle:"OBS proportion", xtx:2981, xlen:583}
];

panels.forEach(p => {
  p.sx = v => p.xa[1] + (v - p.xa[0]) * (p.xa[3] - p.xa[1]) / (p.xa[2] - p.xa[0]);
  p.sy = v => p.ya[1] + (v - p.ya[0]) * (p.ya[3] - p.ya[1]) / (p.ya[2] - p.ya[0]);
  p.g = mk('g', {});
  
  
  const [x0,y0,x1,y1] = p.box;
  const cp = mk('clipPath', {id:'clip-' + p.id}, p.g);
  mk('rect', {x:x0, y:y0, width:x1-x0, height:y1-y0}, cp);
  const pg = mk('g', {'clip-path':'url(#clip-' + p.id + ')'}, p.g);
  
  
  p.pts.forEach(d => {
    const c = mk('circle', {cx:p.sx(d[0]).toFixed(1), cy:p.sy(d[1]).toFixed(1), r:p.r, fill:'none', stroke:p.pc, 'stroke-width':4.5}, pg);
    
    
  });
  const lo = Math.min(p.xa[0], p.xa[2]) - 1, hi = Math.max(p.xa[0], p.xa[2]) + 1;
  const diag = mk('line', {x1:p.sx(lo), y1:p.sy(lo), x2:p.sx(hi), y2:p.sy(hi), stroke:'#222', 'stroke-width':4, 'stroke-dasharray':'3 13', 'clip-path':'url(#clip-' + p.id + ')'}, p.g);
  
  
  p.lines = mk('g', {}, p.g);
  
  
  const fr = mk('rect', {x:x0, y:y0, width:x1-x0, height:y1-y0, fill:'none', stroke:'#222', 'stroke-width':5}, p.g);
  
  
  p.ticks.forEach(t => {
    const X = p.sx(t), Y = p.sy(t);
    mk('line', {x1:X, y1:y1, x2:X, y2:y1+26, stroke:'#222', 'stroke-width':4}, p.g);
    const tx = mk('text', {x:X, y:y1+102, 'font-size':68, 'text-anchor':'middle', fill:'#222'}, p.g);
    tx.textContent = fmt(t);
    
    
    mk('line', {x1:x0-26, y1:Y, x2:x0, y2:Y, stroke:'#222', 'stroke-width':4}, p.g);
    const ty = mk('text', {x:x0-38, y:Y+24, 'font-size':68, 'text-anchor':'end', fill:'#222'}, p.g);
    ty.textContent = fmt(t);
    
    
  });
  const yt = mk('text', {x:0, y:0, 'font-size':92, 'text-anchor':'middle', fill:'#222', transform:`translate(${p.ytx + 32},${p.yty}) rotate(-90)`, textLength:p.ylen, lengthAdjust:'spacingAndGlyphs'}, p.g);
  yt.textContent = p.ytitle;
  
  
  if (p.xtitle) {
    const xt = mk('text', {x:p.xtx, y:4862, 'font-size':90, 'text-anchor':'middle', fill:'#222', textLength:p.xlen, lengthAdjust:'spacingAndGlyphs'}, p.g);
    xt.textContent = p.xtitle;
    
    
  }
  const lb = mk('text', {x:p.lx, y:p.ly, 'font-size':92, fill:'#222', textLength:p.lw, lengthAdjust:'spacingAndGlyphs'}, p.g);
  lb.textContent = p.label;
  
  
});

function series(p, xs, ys, color, dashed, name) {
  const d = xs.map((x, i) => (i ? 'L' : 'M') + p.sx(x).toFixed(1) + ' ' + p.sy(ys[i]).toFixed(1)).join(' ');
  const e = mk('path', {d:d, fill:'none', stroke:color, 'stroke-width':10, 'stroke-linecap':'butt', 'stroke-linejoin':'round', 'stroke-dasharray':dashed ? '42 26' : 'none'}, p.lines);
  
  
}
const P = {}; panels.forEach(p => P[p.id] = p);
series(P['bet-boxcox'], betBcX, betBcNo23, CYAN, true, 'no-hopper-2023-line');
series(P['bet-boxcox'], betBcX, betBcNo24, PURP, true, 'no-hopper-2024-line');
series(P['bet-boxcox'], betBcX, betBcHop23, CYAN, false, 'hopper-2023-line');
series(P['bet-boxcox'], betBcX, betBcHop24, PURP, false, 'hopper-2024-line');
series(P['bet-prop'], betPropX, betPropNo23, CYAN, true, 'no-hopper-2023-line');
series(P['bet-prop'], betPropX.slice(0,8).concat([0.82]), betPropNo24, PURP, true, 'no-hopper-2024-line');
series(P['bet-prop'], betPropX, betPropHop23, CYAN, false, 'hopper-2023-line');
series(P['bet-prop'], betPropX, betPropHop24, PURP, false, 'hopper-2024-line');
series(P['yft-boxcox'], yftBcNoX, yftBcNo, RED, true, 'no-hopper-line');
series(P['yft-boxcox'], yftBcHopX, yftBcHop, RED, false, 'hopper-line');
series(P['yft-prop'], yftPropX.slice(0,8).concat([0.84]), yftPropNo, RED, true, 'no-hopper-line');
series(P['yft-prop'], yftPropX, yftPropHop, RED, false, 'hopper-line');
series(P['skj-boxcox'], skjBcX, skjBcFit, GREEN, false, 'fit-line');
series(P['skj-prop'], skjPropX, skjPropFit, GREEN, false, 'fit-line');

function legend(items, lx0, lx1, tx, ys, fs) {
  const g = mk('g', {});
  
  
  items.forEach((it, i) => {
    const e = mk('g', {}, g);
    
    
    mk('line', {x1:lx0, y1:ys[i], x2:lx1, y2:ys[i], stroke:it[1], 'stroke-width':12, 'stroke-dasharray':it[2] ? '24 14' : 'none'}, e);
    const t = mk('text', {x:tx, y:ys[i] + 18, 'font-size':fs, fill:'#222'}, e);
    t.textContent = it[0];
  });
}
legend([["No Hopper, 2023", CYAN, true], ["No Hopper, 2024", PURP, true], ["Hopper, 2023", CYAN, false], ["Hopper, 2024", PURP, false]], 363, 446, 478, [234, 284, 334, 386], 50);
legend([["No hopper", RED, true], ["Hopper", RED, false]], 399, 500, 539, [1733, 1795], 50);
</script>
</body></html>
